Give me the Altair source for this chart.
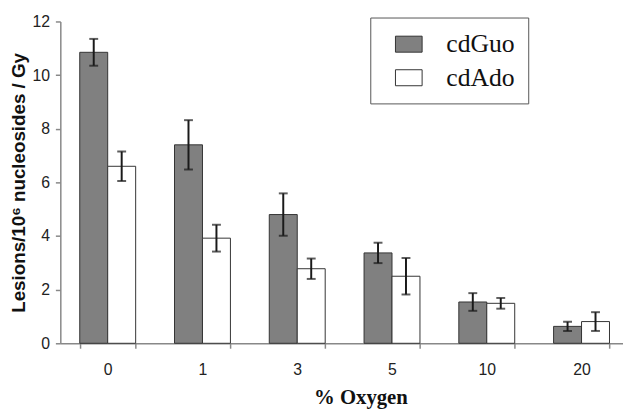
import altair as alt
import pandas as pd

oxygen = ["0", "1", "3", "5", "10", "20"]
series = ["cdGuo", "cdAdo"]
cdGuo = [10.85, 7.40, 4.80, 3.37, 1.54, 0.63]
cdGuo_err = [0.50, 0.92, 0.79, 0.38, 0.33, 0.17]
cdAdo = [6.60, 3.92, 2.78, 2.50, 1.49, 0.81]
cdAdo_err = [0.55, 0.50, 0.38, 0.68, 0.20, 0.35]

rows = []
for i, o in enumerate(oxygen):
    for s, vals, errs in (("cdGuo", cdGuo, cdGuo_err), ("cdAdo", cdAdo, cdAdo_err)):
        rows.append({"oxygen": o, "series": s, "value": vals[i],
                     "lo": vals[i] - errs[i], "hi": vals[i] + errs[i]})
df = pd.DataFrame(rows)

x_enc = alt.X("oxygen:N", sort=oxygen,
              scale=alt.Scale(range=[0, 576], paddingInner=0.41, paddingOuter=0.205),
              axis=alt.Axis(title="% Oxygen", labelAngle=0, tickBand="extent",
                            titleX=304, titleY=61, titleBaseline="alphabetic",
                            titleFont="Liberation Serif", titleFontSize=21,
                            titleFontWeight="bold", titleColor="#111",
                            labelFont="Liberation Sans", labelFontSize=16,
                            labelColor="#222", labelPadding=14, tickSize=5,
                            domainColor="#888", tickColor="#888",
                            domainWidth=1.5, tickWidth=1.5))
xo = alt.XOffset("series:N", sort=series,
                 scale=alt.Scale(paddingInner=0, paddingOuter=0))

bars = alt.Chart(df).mark_bar(stroke="#333", strokeWidth=1).encode(
    x=x_enc,
    xOffset=xo,
    y=alt.Y("value:Q", scale=alt.Scale(domain=[0, 12], nice=False),
            axis=alt.Axis(title="Lesions/10⁶ nucleosides / Gy", values=[0, 2, 4, 6, 8, 10, 12],
                          grid=False, titleFont="Liberation Sans", titleFontSize=19,
                          titleFontWeight="bold", titleColor="#111", titlePadding=3,
                          labelFont="Liberation Sans", labelFontSize=16,
                          labelColor="#222", labelPadding=6, tickSize=5,
                          domainColor="#888", tickColor="#888",
                          domainWidth=1.5, tickWidth=1.5)),
    fill=alt.Fill("series:N", sort=series,
                  scale=alt.Scale(domain=series, range=["#808080", "#ffffff"]),
                  legend=alt.Legend(title=None, orient="none", legendX=314, legendY=-4,
                                    padding=13, strokeColor="#555", fillColor="white",
                                    symbolType="M-1,-0.6H1V0.6H-1Z", symbolSize=729,
                                    symbolOffset=12, symbolStrokeColor="#333",
                                    symbolStrokeWidth=1, rowPadding=7,
                                    labelFont="Liberation Serif", labelFontSize=26,
                                    labelColor="#111", labelOffset=24,
                                    labelExpr="datum.label + '\u00a0\u00a0\u00a0\u00a0'")),
)

err = alt.Chart(df).mark_rule(color="#1a1a1a", strokeWidth=2).encode(
    x=alt.X("oxygen:N", sort=oxygen), xOffset=xo,
    y="lo:Q", y2="hi:Q")
cap_lo = alt.Chart(df).mark_tick(color="#1a1a1a", thickness=2, size=9).encode(
    x=alt.X("oxygen:N", sort=oxygen), xOffset=xo, y="lo:Q")
cap_hi = alt.Chart(df).mark_tick(color="#1a1a1a", thickness=2, size=9).encode(
    x=alt.X("oxygen:N", sort=oxygen), xOffset=xo, y="hi:Q")

chart = alt.layer(bars, err, cap_lo, cap_hi).properties(
    width=570, height=326, autosize="none",
    padding={"left": 53, "top": 11, "right": 0, "bottom": 70},
    background="white",
).configure_view(stroke=None)

chart.save("out.html", embed_options={"renderer": "svg", "actions": False})
